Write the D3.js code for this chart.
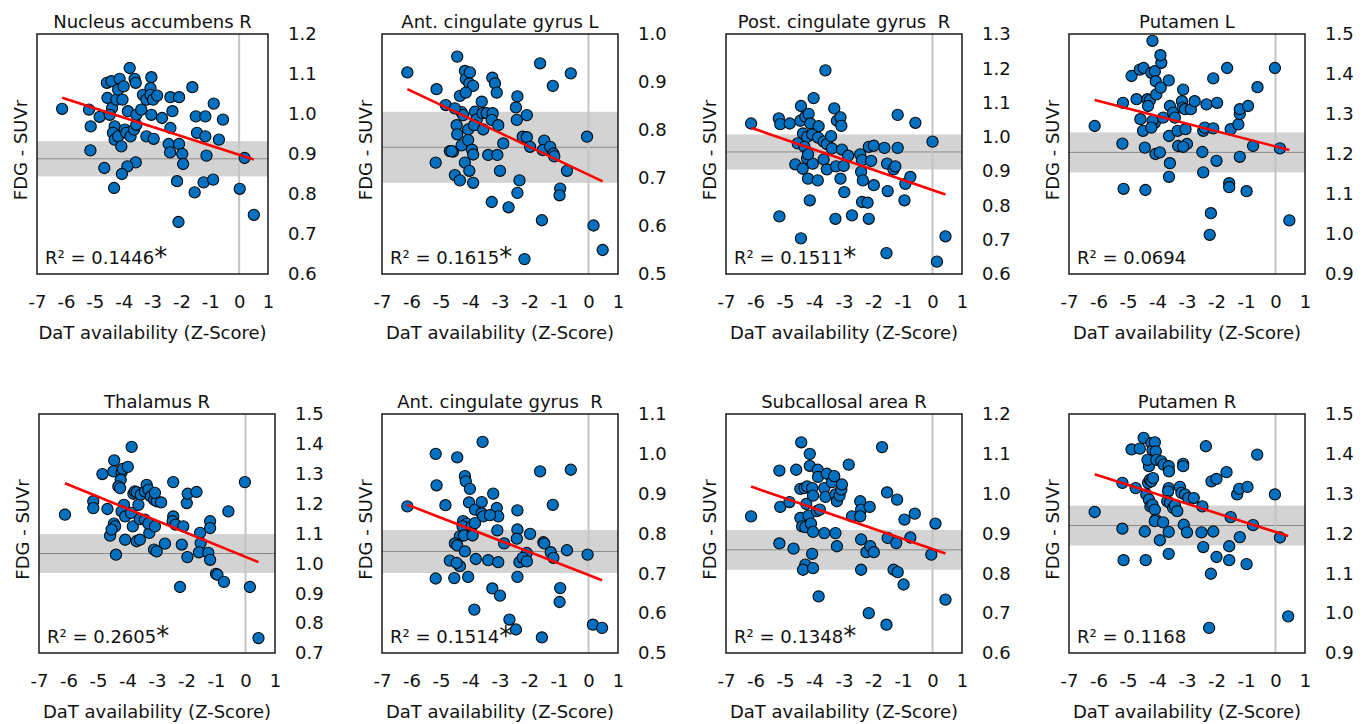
<!DOCTYPE html>
<html>
<head>
<meta charset="utf-8">
<script src="https://cdn.jsdelivr.net/npm/d3@7"></script>
<style>
  html, body { margin: 0; padding: 0; background: #fff; }
  svg { display: block; }
  text { font-family: "DejaVu Sans", sans-serif; fill: #111; }
</style>
</head>
<body>
<svg id="chart" width="1363" height="724"></svg>
<script>
// ---------------- DATA ----------------
const titles = ["Nucleus accumbens R", "Ant. cingulate gyrus L", "Post. cingulate gyrus  R", "Putamen L",
                "Thalamus R", "Ant. cingulate gyrus  R", "Subcallosal area R", "Putamen R"];
const r2Labels = ["0.1446", "0.1615", "0.1511", "0.0694", "0.2605", "0.1514", "0.1348", "0.1168"];
const significant = [true, true, true, false, true, true, true, false];
const yDomains = [[0.6, 1.2], [0.5, 1.0], [0.6, 1.3], [0.9, 1.5], [0.7, 1.5], [0.5, 1.1], [0.6, 1.2], [0.9, 1.5]];
const fitSlopes = [-0.0233, -0.0290, -0.0295, -0.0189, -0.0402, -0.0287, -0.0255, -0.0236];
const fitIntercepts = [0.898, 0.707, 0.845, 1.219, 1.022, 0.696, 0.861, 1.204];
const controlMeans = [0.888, 0.764, 0.956, 1.204, 1.033, 0.755, 0.859, 1.220];
const controlSD = [0.044, 0.074, 0.051, 0.050, 0.065, 0.054, 0.050, 0.050];
const xTicks = [-7, -6, -5, -4, -3, -2, -1, 0, 1];
const xTitle = "DaT availability (Z-Score)";
const yTitle = "FDG - SUVr";

// [DaT z-score, FDG SUVr]
const nucleusAccumbensR = [[-6.13,1.013],[-5.20,1.011],[-5.14,0.969],[-4.83,0.993],[-5.15,0.909],[-4.67,0.865],[-4.33,0.815],[-4.58,1.078],[-4.42,1.082],[-4.56,1.040],[-4.40,1.015],[-4.48,0.998],[-4.25,1.036],[-4.14,1.088],[-4.19,1.061],[-4.00,1.069],[-4.04,1.036],[-3.79,1.115],[-3.62,1.088],[-3.58,1.078],[-3.85,1.007],[-4.31,0.969],[-4.37,0.953],[-4.31,0.936],[-4.19,0.944],[-4.08,0.919],[-3.96,0.961],[-3.91,0.953],[-3.76,0.944],[-3.64,0.961],[-3.56,0.973],[-3.56,0.998],[-3.39,1.011],[-3.33,1.048],[-3.21,1.036],[-3.04,1.092],[-3.07,1.065],[-3.07,1.048],[-2.98,1.036],[-2.84,1.046],[-3.04,0.998],[-3.21,0.944],[-2.96,0.938],[-3.58,0.879],[-3.87,0.869],[-4.06,0.850],[-2.67,0.990],[-2.38,1.042],[-2.31,1.007],[-2.38,0.965],[-2.44,0.925],[-2.39,0.904],[-2.08,1.042],[-2.15,0.832],[-2.08,0.925],[-1.97,0.900],[-1.94,0.875],[-2.10,0.730],[-1.62,1.067],[-1.50,0.994],[-1.46,0.953],[-1.54,0.804],[-1.17,0.994],[-1.17,0.944],[-1.13,0.896],[-1.23,0.829],[-0.90,0.836],[-0.88,1.026],[-0.70,0.936],[-0.56,0.986],[0.02,0.813],[0.19,0.890],[0.51,0.748]];

const antCingulateL = [[-6.14,0.920],[-5.15,0.885],[-5.18,0.732],[-4.84,0.852],[-4.45,0.953],[-4.36,0.871],[-4.70,0.756],[-4.53,0.706],[-4.36,0.695],[-4.59,0.755],[-4.47,0.810],[-4.45,0.791],[-4.30,0.768],[-4.30,0.837],[-4.25,0.831],[-4.19,0.923],[-4.16,0.906],[-4.02,0.920],[-4.04,0.897],[-3.91,0.892],[-4.16,0.878],[-4.08,0.801],[-4.08,0.779],[-4.19,0.732],[-4.04,0.715],[-3.91,0.690],[-3.85,0.838],[-3.79,0.822],[-3.88,0.810],[-3.62,0.859],[-3.59,0.835],[-3.45,0.835],[-3.57,0.801],[-3.40,0.748],[-3.26,0.909],[-3.17,0.897],[-3.11,0.878],[-3.25,0.835],[-3.28,0.821],[-3.06,0.810],[-3.09,0.748],[-3.00,0.715],[-2.89,0.772],[-3.28,0.650],[-2.71,0.639],[-2.41,0.870],[-2.46,0.847],[-2.43,0.821],[-2.34,0.695],[-2.41,0.669],[-2.09,0.831],[-2.23,0.786],[-2.09,0.785],[-1.98,0.765],[-2.17,0.531],[-1.64,0.939],[-1.58,0.612],[-1.50,0.778],[-1.55,0.758],[-1.30,0.765],[-1.19,0.751],[-1.16,0.745],[-1.21,0.892],[-0.96,0.678],[-0.98,0.664],[-0.73,0.715],[-0.60,0.918],[-0.05,0.786],[0.17,0.601],[0.48,0.550],[-3.95,0.759],[-3.91,0.749],[-4.53,0.845],[-4.64,0.756]];

const postCingulateR = [[-6.15,1.039],[-5.21,1.054],[-5.16,1.037],[-4.84,1.039],[-5.19,0.768],[-4.46,1.090],[-4.48,1.047],[-4.31,1.059],[-4.20,1.067],[-4.03,1.113],[-4.14,1.039],[-3.86,1.031],[-3.63,1.194],[-3.33,1.083],[-3.24,1.047],[-3.12,1.057],[-3.09,1.032],[-4.39,1.010],[-4.25,1.000],[-4.08,1.007],[-3.88,0.998],[-3.69,0.986],[-3.58,0.979],[-3.44,1.002],[-4.57,0.981],[-4.34,0.971],[-4.65,0.920],[-4.40,0.907],[-4.25,0.937],[-4.06,0.922],[-4.22,0.949],[-4.22,0.878],[-3.89,0.873],[-4.16,0.815],[-3.69,0.934],[-3.58,0.905],[-3.41,0.966],[-3.27,0.914],[-3.07,0.963],[-3.01,0.915],[-3.12,0.878],[-2.99,0.839],[-2.86,0.945],[-3.29,0.761],[-2.73,0.771],[-2.39,0.810],[-2.20,0.808],[-2.16,0.761],[-2.45,0.949],[-2.39,0.932],[-2.42,0.898],[-2.36,0.873],[-2.16,0.971],[-1.99,0.974],[-2.08,0.930],[-1.99,0.859],[-1.63,0.968],[-1.54,0.922],[-1.52,0.842],[-1.56,0.661],[-1.32,0.905],[-1.26,0.914],[-1.18,0.968],[-1.18,1.064],[-0.95,0.815],[-0.92,0.863],[-0.75,0.883],[-0.58,1.041],[0.00,0.986],[0.15,0.636],[0.44,0.710],[-4.46,0.704]];

const putamenL = [[-6.13,1.270],[-5.17,1.328],[-5.19,1.226],[-5.15,1.113],[-4.88,1.395],[-4.71,1.337],[-4.60,1.411],[-4.47,1.415],[-4.58,1.287],[-4.49,1.258],[-4.43,1.216],[-4.41,1.110],[-4.34,1.337],[-4.26,1.334],[-4.32,1.320],[-4.21,1.403],[-4.17,1.483],[-4.09,1.407],[-4.06,1.382],[-4.04,1.349],[-3.87,1.428],[-3.90,1.447],[-3.89,1.366],[-4.09,1.278],[-4.17,1.283],[-4.21,1.266],[-4.07,1.200],[-3.92,1.204],[-3.81,1.291],[-3.62,1.384],[-3.58,1.320],[-3.61,1.245],[-3.58,1.177],[-3.61,1.143],[-3.47,1.303],[-3.41,1.291],[-3.32,1.258],[-3.30,1.220],[-3.13,1.361],[-3.17,1.332],[-3.15,1.316],[-3.07,1.312],[-3.05,1.262],[-3.00,1.225],[-3.13,1.218],[-2.87,1.312],[-2.74,1.332],[-2.48,1.205],[-2.45,1.154],[-2.34,1.324],[-2.45,1.258],[-2.40,1.266],[-2.11,1.389],[-2.11,1.264],[-2.19,1.052],[-2.23,0.998],[-2.00,1.183],[-1.98,1.328],[-1.64,1.415],[-1.52,1.262],[-1.57,1.127],[-1.57,1.117],[-1.26,1.274],[-1.21,1.300],[-1.21,1.312],[-1.21,1.193],[-0.93,1.320],[-0.98,1.107],[-0.76,1.220],[-0.61,1.367],[-0.02,1.415],[0.15,1.214],[0.47,1.034]];

const thalamusR = [[-6.12,1.163],[-5.16,1.208],[-5.16,1.185],[-4.68,1.182],[-4.85,1.299],[-4.45,1.345],[-4.48,1.308],[-4.20,1.305],[-4.16,1.316],[-4.23,1.280],[-4.31,1.258],[-4.25,1.252],[-3.99,1.323],[-3.86,1.390],[-3.80,1.233],[-3.75,1.241],[-3.69,1.238],[-3.63,1.196],[-3.55,1.230],[-3.41,1.241],[-3.35,1.263],[-3.29,1.247],[-3.21,1.224],[-3.10,1.213],[-3.01,1.208],[-2.86,1.204],[-3.07,1.236],[-4.12,1.196],[-4.20,1.174],[-4.08,1.157],[-3.88,1.169],[-4.46,1.133],[-4.42,1.124],[-4.59,1.093],[-4.54,1.113],[-4.39,1.029],[-4.08,1.079],[-3.69,1.074],[-3.58,1.079],[-3.82,1.124],[-3.58,1.148],[-3.41,1.146],[-3.26,1.102],[-3.10,1.046],[-3.01,1.040],[-3.29,1.133],[-3.07,1.124],[-2.73,1.066],[-2.45,1.272],[-2.45,1.157],[-2.47,1.141],[-2.37,1.130],[-2.16,1.063],[-2.11,1.124],[-1.99,1.202],[-1.96,1.233],[-2.22,0.921],[-1.97,1.021],[-1.66,1.239],[-1.54,1.102],[-1.52,1.068],[-1.58,1.037],[-1.26,1.035],[-1.20,1.012],[-1.20,1.141],[-1.20,1.118],[-1.00,0.965],[-0.95,0.962],[-0.73,0.938],[-0.58,1.174],[-0.02,1.272],[0.15,0.921],[0.44,0.750]];

const antCingulateR = [[-6.14,0.868],[-5.18,1.000],[-5.15,0.921],[-4.85,0.871],[-5.18,0.687],[-4.45,0.991],[-4.55,0.688],[-4.19,0.944],[-4.16,0.931],[-4.02,0.912],[-3.59,1.030],[-4.05,0.878],[-3.85,0.860],[-3.62,0.879],[-3.62,0.851],[-3.57,0.843],[-3.23,0.900],[-3.11,0.864],[-3.06,0.843],[-3.34,0.846],[-3.09,0.808],[-4.25,0.831],[-4.13,0.825],[-4.27,0.818],[-3.96,0.818],[-3.85,0.826],[-4.36,0.793],[-4.22,0.795],[-3.93,0.795],[-4.53,0.775],[-4.45,0.770],[-4.36,0.718],[-4.19,0.755],[-4.08,0.691],[-3.82,0.736],[-4.70,0.732],[-4.47,0.726],[-3.87,0.609],[-3.40,0.733],[-3.06,0.728],[-3.26,0.662],[-3.00,0.644],[-2.86,0.775],[-2.68,0.584],[-2.41,0.858],[-2.41,0.810],[-2.43,0.787],[-2.34,0.728],[-2.41,0.691],[-1.98,0.799],[-2.09,0.751],[-2.23,0.739],[-2.09,0.730],[-2.46,0.559],[-1.64,0.956],[-1.53,0.778],[-1.50,0.775],[-1.58,0.539],[-1.28,0.753],[-1.19,0.739],[-1.21,0.872],[-0.96,0.663],[-0.98,0.628],[-0.73,0.758],[-0.60,0.960],[-0.03,0.747],[0.15,0.571],[0.46,0.563]];

const subcallosalR = [[-6.15,0.943],[-5.19,1.058],[-5.16,0.967],[-4.85,0.979],[-5.19,0.875],[-4.71,0.862],[-4.62,1.060],[-4.45,1.129],[-4.48,1.012],[-4.34,1.014],[-4.16,1.100],[-4.16,1.070],[-4.25,1.018],[-4.08,1.014],[-4.05,0.995],[-3.89,1.060],[-3.88,1.042],[-4.28,0.974],[-4.48,0.939],[-4.42,0.918],[-4.31,0.916],[-4.20,0.945],[-4.12,0.925],[-4.05,0.904],[-3.92,0.956],[-3.82,0.960],[-3.67,0.901],[-3.67,1.014],[-3.63,0.992],[-3.58,1.050],[-3.41,1.029],[-3.33,1.044],[-3.29,0.998],[-3.24,0.981],[-3.15,0.995],[-3.09,1.010],[-3.07,1.023],[-2.84,1.073],[-4.31,0.822],[-4.39,0.809],[-4.05,0.813],[-4.08,0.849],[-3.86,0.742],[-3.29,0.901],[-3.24,0.868],[-2.73,0.943],[-2.45,0.981],[-2.42,0.960],[-2.45,0.943],[-2.13,0.967],[-2.42,0.885],[-2.24,0.853],[-2.11,0.868],[-1.99,0.853],[-2.42,0.809],[-1.71,1.117],[-1.54,1.003],[-1.52,0.889],[-1.20,0.985],[-1.23,0.876],[-1.32,0.809],[-1.18,0.803],[-0.98,0.772],[-0.95,0.935],[-0.75,0.890],[-0.60,0.950],[0.10,0.925],[-0.04,0.847],[-2.16,0.700],[-1.56,0.671],[0.44,0.734]];

const putamenR = [[-6.13,1.254],[-5.19,1.327],[-5.19,1.212],[-5.15,1.133],[-4.88,1.411],[-4.60,1.413],[-4.74,1.314],[-4.47,1.440],[-4.43,1.205],[-4.40,1.133],[-4.38,1.298],[-4.32,1.327],[-4.26,1.335],[-4.29,1.369],[-4.34,1.385],[-4.21,1.427],[-4.17,1.409],[-4.09,1.429],[-4.06,1.406],[-4.04,1.385],[-4.21,1.331],[-4.15,1.339],[-4.29,1.285],[-4.24,1.268],[-4.17,1.272],[-4.09,1.260],[-4.06,1.235],[-3.92,1.183],[-4.09,1.231],[-3.87,1.381],[-3.79,1.373],[-3.62,1.369],[-3.61,1.356],[-3.62,1.314],[-3.64,1.306],[-3.67,1.281],[-3.58,1.277],[-3.62,1.149],[-3.81,1.228],[-3.62,1.204],[-3.47,1.264],[-3.41,1.270],[-3.33,1.256],[-3.24,1.317],[-3.19,1.302],[-3.13,1.375],[-3.13,1.369],[-3.11,1.222],[-3.00,1.203],[-3.07,1.298],[-2.96,1.289],[-2.77,1.289],[-2.48,1.268],[-2.51,1.203],[-2.45,1.166],[-2.36,1.419],[-2.17,1.331],[-2.00,1.337],[-2.11,1.205],[-2.00,1.141],[-2.19,1.099],[-2.25,0.963],[-1.66,1.354],[-1.57,1.168],[-1.57,1.133],[-1.52,1.241],[-1.30,1.298],[-1.23,1.312],[-1.21,1.191],[-0.95,1.317],[-0.98,1.123],[-0.76,1.221],[-0.62,1.398],[-0.02,1.298],[0.15,1.190],[0.43,0.992]];

const panelData = [nucleusAccumbensR, antCingulateL, postCingulateR, putamenL,
                   thalamusR, antCingulateR, subcallosalR, putamenR];

// ---------------- LAYOUT ----------------
const boxLeft  = [37, 382, 726, 1069, 39, 382, 726, 1069];
const boxWidth = [231, 236, 236, 236, 236, 236, 236, 236];
const rowTop = [34, 414];
const rowHeight = [240, 239];

const svg = d3.select("#chart");
svg.append("rect").attr("width", 1363).attr("height", 724).attr("fill", "#fff");

panelData.forEach((data, i) => {
  const row = i < 4 ? 0 : 1;
  const L = boxLeft[i], W = boxWidth[i], T = rowTop[row], H = rowHeight[row];
  const x = d3.scaleLinear().domain([-7, 1]).range([L, L + W]);
  const y = d3.scaleLinear().domain(yDomains[i]).range([T + H, T]);
  const g = svg.append("g");

  // control band (mean ± SD)
  g.append("rect")
    .attr("x", L).attr("width", W)
    .attr("y", y(controlMeans[i] + controlSD[i]))
    .attr("height", y(controlMeans[i] - controlSD[i]) - y(controlMeans[i] + controlSD[i]))
    .attr("fill", "#d3d3d3");
  g.append("line")
    .attr("x1", L).attr("x2", L + W)
    .attr("y1", y(controlMeans[i])).attr("y2", y(controlMeans[i]))
    .attr("stroke", "#8a8a8a").attr("stroke-width", 1);
  // zero line
  g.append("line")
    .attr("x1", x(0)).attr("x2", x(0))
    .attr("y1", T).attr("y2", T + H)
    .attr("stroke", "#c4c4c4").attr("stroke-width", 2);

  // points
  g.selectAll("circle.pt").data(data).join("circle")
    .attr("class", "pt")
    .attr("cx", d => x(d[0])).attr("cy", d => y(d[1]))
    .attr("r", 5.6)
    .attr("fill", "#0070c0")
    .attr("stroke", "#0a0a0a").attr("stroke-width", 1.1);

  // regression line
  const ext = d3.extent(data, d => d[0]);
  const line = d3.line().x(d => x(d)).y(d => y(fitIntercepts[i] + fitSlopes[i] * d));
  g.append("path").datum(ext).attr("d", line)
    .attr("fill", "none").attr("stroke", "#ff0000").attr("stroke-width", 2.6);

  // frame
  g.append("rect").attr("x", L).attr("y", T).attr("width", W).attr("height", H)
    .attr("fill", "none").attr("stroke", "#1a1a1a").attr("stroke-width", 1.5);

  // y axis (right)
  const yT = d3.range(Math.round(yDomains[i][0] * 10), Math.round(yDomains[i][1] * 10) + 1).map(v => v / 10);
  const ya = g.append("g").attr("transform", `translate(${L + W},0)`)
    .call(d3.axisRight(y).tickValues(yT).tickFormat(d3.format(".1f")).tickSize(0).tickPadding(20));
  ya.select(".domain").remove();
  ya.selectAll("text").attr("font-size", 18).attr("font-family", "DejaVu Sans").attr("fill", "#111");

  // x axis (bottom)
  const xa = g.append("g").attr("transform", `translate(0,${T + H})`)
    .call(d3.axisBottom(x).tickValues(xTicks).tickFormat(d => String(d)).tickSize(0).tickPadding(21));
  xa.select(".domain").remove();
  xa.selectAll("text").attr("font-size", 18).attr("font-family", "DejaVu Sans").attr("fill", "#111");

  // x title
  g.append("text").attr("x", L + W / 2).attr("y", T + H + 65)
    .attr("text-anchor", "middle").attr("font-size", 18).text(xTitle);
  // y title
  g.append("text")
    .attr("transform", `translate(${L - 10},${T + H / 2 - 4}) rotate(-90)`)
    .attr("text-anchor", "middle").attr("font-size", 18).text(yTitle);
  // panel title
  g.append("text").attr("x", L + W / 2).attr("y", T - 6)
    .attr("text-anchor", "middle").attr("font-size", 18)
    .style("white-space", "pre").text(titles[i]);

  // R² label
  const r2 = g.append("text").attr("x", L + 8).attr("y", T + H - 10).attr("font-size", 18);
  r2.append("tspan").text("R² = " + r2Labels[i]);
  if (significant[i]) r2.append("tspan").attr("font-size", 26).attr("dy", 2).text("*");
});
</script>
</body>
</html>
